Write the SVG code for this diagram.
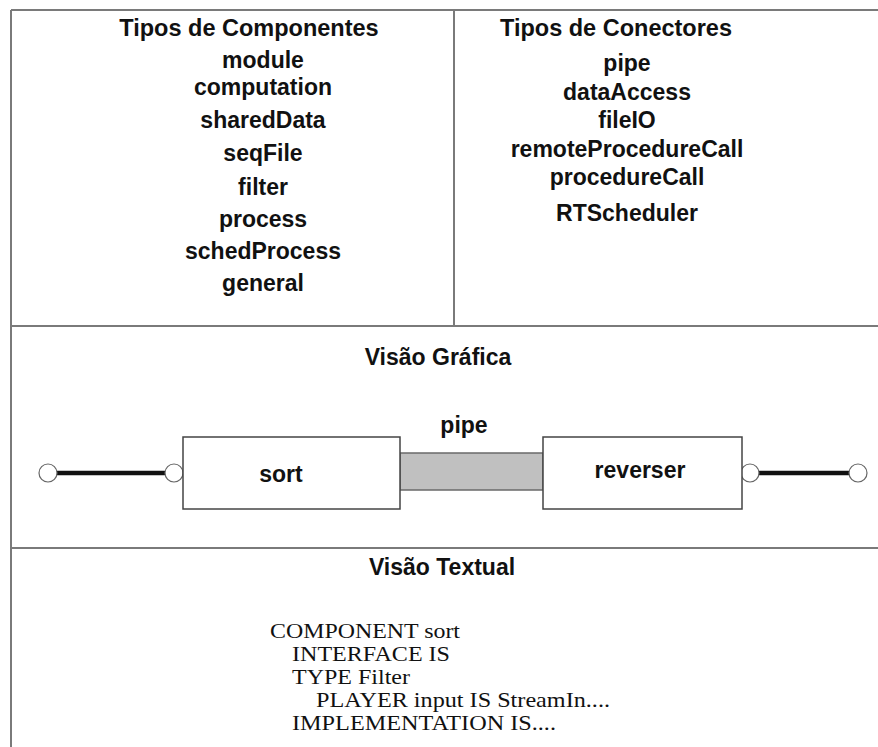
<svg xmlns="http://www.w3.org/2000/svg" width="878" height="747" viewBox="0 0 878 747">
  <style>
    .frame { stroke: #7a7a7a; stroke-width: 2; fill: none; }
    .h { font-family: "Liberation Sans", Arial, sans-serif; font-weight: bold; font-size: 23px; fill: #111; text-anchor: middle; }
    .title { font-size: 23.5px; }
    .code { font-family: "Liberation Serif", "Times New Roman", serif; font-size: 22px; fill: #111; }
    .box { fill: #fff; stroke: #444; stroke-width: 1.5; }
    .port { fill: #fff; stroke: #666; stroke-width: 1.2; }
    .wire { stroke: #111; stroke-width: 4.5; fill: none; }
    .pipe { fill: #c0c0c0; stroke: #6a6a6a; stroke-width: 1.5; }
  </style>

  <rect width="878" height="747" fill="#fff"/>

  <!-- panel frame and dividers -->
  <g id="frame">
    <line class="frame" x1="11" y1="10" x2="878" y2="10"/>
    <line class="frame" x1="11" y1="10" x2="11" y2="747"/>
    <line class="frame" x1="454" y1="10" x2="454" y2="326"/>
    <line class="frame" x1="11" y1="326" x2="878" y2="326"/>
    <line class="frame" x1="11" y1="548" x2="878" y2="548"/>
  </g>

  <!-- component types -->
  <g id="component-types">
    <text class="h title" x="249" y="36">Tipos de Componentes</text>
    <text class="h" x="263" y="68">module</text>
    <text class="h" x="263" y="95">computation</text>
    <text class="h" x="263" y="128">sharedData</text>
    <text class="h" x="263" y="161">seqFile</text>
    <text class="h" x="263" y="195">filter</text>
    <text class="h" x="263" y="227">process</text>
    <text class="h" x="263" y="259">schedProcess</text>
    <text class="h" x="263" y="291">general</text>
  </g>

  <!-- connector types -->
  <g id="connector-types">
    <text class="h title" x="616" y="36">Tipos de Conectores</text>
    <text class="h" x="627" y="71">pipe</text>
    <text class="h" x="627" y="100">dataAccess</text>
    <text class="h" x="627" y="128">fileIO</text>
    <text class="h" x="627" y="157">remoteProcedureCall</text>
    <text class="h" x="627" y="185">procedureCall</text>
    <text class="h" x="627" y="221">RTScheduler</text>
  </g>

  <!-- graphical view -->
  <text class="h" x="438" y="365">Visão Gráfica</text>

  <g id="connectors">
    <g id="pipe-connector">
      <rect class="pipe" x="400" y="453" width="143" height="37"/>
      <text class="h" x="464" y="433">pipe</text>
    </g>
    <g id="sort-input">
      <line class="wire" x1="56" y1="473" x2="166" y2="473"/>
      <circle class="port" cx="48" cy="473" r="9"/>
      <circle class="port" cx="174" cy="473" r="9"/>
    </g>
    <g id="reverser-output">
      <line class="wire" x1="758" y1="473" x2="850" y2="473"/>
      <circle class="port" cx="750" cy="473" r="9"/>
      <circle class="port" cx="858" cy="473" r="9"/>
    </g>
  </g>

  <g id="sort">
    <rect class="box" x="183" y="437" width="217" height="72"/>
    <text class="h" x="281" y="482">sort</text>
  </g>

  <g id="reverser">
    <rect class="box" x="543" y="437" width="199" height="72"/>
    <text class="h" x="640" y="478">reverser</text>
  </g>

  <!-- textual view -->
  <g id="textual-view">
    <text class="h" x="442" y="575">Visão Textual</text>
    <text class="code" x="270" y="638" textLength="190" lengthAdjust="spacingAndGlyphs">COMPONENT sort</text>
    <text class="code" x="292" y="661" textLength="158" lengthAdjust="spacingAndGlyphs">INTERFACE IS</text>
    <text class="code" x="292" y="684" textLength="118" lengthAdjust="spacingAndGlyphs">TYPE Filter</text>
    <text class="code" x="316" y="707" textLength="294" lengthAdjust="spacingAndGlyphs">PLAYER input IS StreamIn....</text>
    <text class="code" x="292" y="730" textLength="264" lengthAdjust="spacingAndGlyphs">IMPLEMENTATION IS....</text>
  </g>
</svg>
